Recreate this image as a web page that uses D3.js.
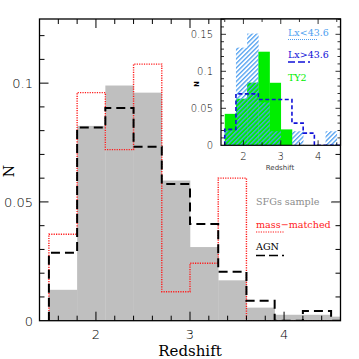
<!DOCTYPE html>
<html>
<head>
<meta charset="utf-8">
<script src="https://cdn.jsdelivr.net/npm/d3@7"></script>
<style>
  body { margin: 0; background: #fff; }
  svg { display: block; }
</style>
</head>
<body>
<div id="chart"></div>
<script>
// bin left edges (redshift), width 0.3
const binEdges = [1.5, 1.8, 2.1, 2.4, 2.7, 3.0, 3.3, 3.6, 3.9, 4.2, 4.5];
const binWidth = 0.3;

// main panel
const sfgValues = [0.013, 0.082, 0.099, 0.096, 0.059, 0.031, 0.017, 0.0055, 0.0025, 0.0025, 0.0017];
const massMatched = [0.0364, 0.096, 0.072, 0.108, 0.0122, 0.0242, 0.060, 0, 0, 0, 0];
const agnValues = [0.0286, 0.0813, 0.0895, 0.0732, 0.0575, 0.0407, 0.0206, 0.0084, 0, 0.0041, 0];

// inset
const lowLx = [0.02, 0.132, 0.151, 0.058, 0.019, 0, 0.019, 0, 0, 0.019, 0];
const highLx = [0.0215, 0.0695, 0.0695, 0.062, 0.062, 0.062, 0.030, 0.0165, 0, 0, 0];
const ty2Values = [0.0425, 0.063, 0.0847, 0.1265, 0.0845, 0.0215, 0, 0, 0, 0, 0];

const xTicksMain = [2, 3, 4];
const yTicksMain = [0, 0.05, 0.1];
const xTicksInset = [2, 3, 4];
const yTicksInset = [0, 0.05, 0.1, 0.15];

const W = 359, H = 359;
const svg = d3.select("#chart").append("svg")
    .attr("width", W)
    .attr("height", H);

const defs = svg.append("defs");
const pat = defs.append("pattern")
    .attr("id", "hatch")
    .attr("patternUnits", "userSpaceOnUse")
    .attr("width", 3.2)
    .attr("height", 3.2)
    .attr("patternTransform", "rotate(45)");
pat.append("rect")
    .attr("x", 0).attr("y", 0)
    .attr("width", 1.3).attr("height", 3.2)
    .attr("fill", "#4f9ff0");

const clipMain = defs.append("clipPath").attr("id", "clipMain");
const clipInset = defs.append("clipPath").attr("id", "clipInset");

// step path helper: starts at 0 on the first edge
function stepPath(x, y, vals) {
    const pts = [[x(binEdges[0]), y(0)]];
    vals.forEach((v, i) => {
        const x0 = x(binEdges[i]);
        const x1 = x(Math.min(binEdges[i] + binWidth, x.domain()[1] + 0.3));
        pts.push([x0, y(v)]);
        pts.push([x1, y(v)]);
    });
    return d3.line()(pts);
}

function drawTicks(g, x, y, opt) {
    const [x0, x1] = x.range();
    const [y0, y1] = y.range();
    const ticks = g.append("g").attr("stroke", "#000").attr("stroke-width", opt.tw);
    // x ticks bottom and top
    d3.range(opt.xMinorStart, x.domain()[1] + 1e-6, opt.xMinor).forEach(v => {
        const major = Math.abs(v - Math.round(v)) < 1e-6;
        const len = major ? opt.major : opt.minor;
        const px = x(v);
        if (px <= x0 + 0.5 || px >= x1 - 0.5) return;
        ticks.append("line").attr("x1", px).attr("x2", px).attr("y1", y0).attr("y2", y0 - len);
        ticks.append("line").attr("x1", px).attr("x2", px).attr("y1", y1).attr("y2", y1 + len);
    });
    d3.range(0, y.domain()[1] + 1e-9, opt.yMinor).forEach(v => {
        const major = Math.abs(v / 0.05 - Math.round(v / 0.05)) < 1e-6;
        const len = major ? opt.major : opt.minor;
        const py = y(v);
        if (py >= y0 - 0.5 || py <= y1 + 0.5) return;
        ticks.append("line").attr("x1", x0).attr("x2", x0 + len).attr("y1", py).attr("y2", py);
        ticks.append("line").attr("x1", x1).attr("x2", x1 - len).attr("y1", py).attr("y2", py);
    });
}

// ---------- main panel ----------
const x = d3.scaleLinear().domain([1.4, 4.6]).range([39.5, 340.5]);
const y = d3.scaleLinear().domain([0, 0.127]).range([320.7, 19]);

clipMain.append("rect")
    .attr("x", x.range()[0]).attr("y", y.range()[1])
    .attr("width", x.range()[1] - x.range()[0])
    .attr("height", y.range()[0] - y.range()[1]);

const main = svg.append("g");
const plot = main.append("g").attr("clip-path", "url(#clipMain)");

plot.selectAll("rect.sfg")
    .data(sfgValues)
    .join("rect")
    .attr("class", "sfg")
    .attr("x", (d, i) => x(binEdges[i]))
    .attr("width", (d, i) => x(binEdges[i] + binWidth) - x(binEdges[i]) + 0.3)
    .attr("y", d => y(d))
    .attr("height", d => y(0) - y(d))
    .attr("fill", "#bfbfbf");

plot.append("path")
    .attr("d", stepPath(x, y, massMatched))
    .attr("fill", "none")
    .attr("stroke", "#ff1a1a")
    .attr("stroke-width", 1.4)
    .attr("stroke-dasharray", "1.2,1.2");

plot.append("path")
    .attr("d", stepPath(x, y, agnValues))
    .attr("fill", "none")
    .attr("stroke", "#000")
    .attr("stroke-width", 2)
    .attr("stroke-dasharray", "9,5");

drawTicks(main, x, y, { xMinorStart: 1.4, xMinor: 0.2, yMinor: 0.01, major: 9, minor: 5, tw: 1 });

main.append("rect")
    .attr("x", x.range()[0]).attr("y", y.range()[1])
    .attr("width", x.range()[1] - x.range()[0])
    .attr("height", y.range()[0] - y.range()[1])
    .attr("fill", "none")
    .attr("stroke", "#000")
    .attr("stroke-width", 1.3);

const tickFont = "'DejaVu Sans', sans-serif";
const serif = "'DejaVu Serif', 'Liberation Serif', serif";

main.selectAll("text.xt")
    .data(xTicksMain)
    .join("text")
    .attr("x", d => x(d))
    .attr("y", 339)
    .attr("text-anchor", "middle")
    .attr("font-family", tickFont)
    .attr("font-size", 13)
    .attr("font-weight", 300)
    .text(d => d);

main.selectAll("text.yt")
    .data(yTicksMain)
    .join("text")
    .attr("x", 33)
    .attr("y", d => y(d) + 5)
    .attr("text-anchor", "end")
    .attr("font-family", tickFont)
    .attr("font-size", 13)
    .attr("font-weight", 300)
    .text(d => d);

main.append("text")
    .attr("x", 190)
    .attr("y", 356)
    .attr("text-anchor", "middle")
    .attr("font-family", serif)
    .attr("font-size", 15)
    .text("Redshift");

main.append("text")
    .attr("transform", "translate(14,171) rotate(-90)")
    .attr("text-anchor", "middle")
    .attr("font-family", serif)
    .attr("font-size", 14)
    .text("N");

// main legend
const leg = main.append("g").attr("font-family", serif).attr("font-size", 9.6);
leg.append("text").attr("x", 256).attr("y", 205).attr("fill", "#8c8c8c").text("SFGs sample");
leg.append("line").attr("x1", 331).attr("x2", 340).attr("y1", 202.3).attr("y2", 202.3)
    .attr("stroke", "#8c8c8c").attr("stroke-width", 1.5);
leg.append("text").attr("x", 256).attr("y", 228).attr("fill", "#ff1a1a").text("mass\u2212matched");
leg.append("line").attr("x1", 256).attr("x2", 284).attr("y1", 232).attr("y2", 232)
    .attr("stroke", "#ff1a1a").attr("stroke-width", 1.2).attr("stroke-dasharray", "1.2,1.2");
leg.append("text").attr("x", 256).attr("y", 250).attr("fill", "#000").text("AGN");
leg.append("line").attr("x1", 256).attr("x2", 284).attr("y1", 255.5).attr("y2", 255.5)
    .attr("stroke", "#000").attr("stroke-width", 1.6).attr("stroke-dasharray", "9,4");

// ---------- inset ----------
const xi = d3.scaleLinear().domain([1.4, 4.6]).range([221, 340.5]);
const yi = d3.scaleLinear().domain([0, 0.1707]).range([145.3, 19]);

clipInset.append("rect")
    .attr("x", xi.range()[0]).attr("y", yi.range()[1])
    .attr("width", xi.range()[1] - xi.range()[0])
    .attr("height", yi.range()[0] - yi.range()[1]);

const inset = svg.append("g");
inset.append("rect")
    .attr("x", xi.range()[0]).attr("y", yi.range()[1])
    .attr("width", xi.range()[1] - xi.range()[0])
    .attr("height", yi.range()[0] - yi.range()[1])
    .attr("fill", "#fff");

const iplot = inset.append("g").attr("clip-path", "url(#clipInset)");

iplot.selectAll("rect.ty2")
    .data(ty2Values)
    .join("rect")
    .attr("class", "ty2")
    .attr("x", (d, i) => xi(binEdges[i]))
    .attr("width", (d, i) => xi(binEdges[i] + binWidth) - xi(binEdges[i]) + 0.3)
    .attr("y", d => yi(d))
    .attr("height", d => yi(0) - yi(d))
    .attr("fill", "#00ee00");

iplot.selectAll("rect.low")
    .data(lowLx)
    .join("rect")
    .attr("class", "low")
    .attr("x", (d, i) => xi(binEdges[i]))
    .attr("width", (d, i) => xi(binEdges[i] + binWidth) - xi(binEdges[i]) + 0.3)
    .attr("y", d => yi(d))
    .attr("height", d => yi(0) - yi(d))
    .attr("fill", "url(#hatch)");

iplot.append("path")
    .attr("d", stepPath(xi, yi, highLx))
    .attr("fill", "none")
    .attr("stroke", "#1010d8")
    .attr("stroke-width", 1.6)
    .attr("stroke-dasharray", "4,2.5");

drawTicks(inset, xi, yi, { xMinorStart: 1.5, xMinor: 0.5, yMinor: 0.01, major: 5, minor: 3, tw: 0.8 });

inset.append("rect")
    .attr("x", xi.range()[0]).attr("y", yi.range()[1])
    .attr("width", xi.range()[1] - xi.range()[0])
    .attr("height", yi.range()[0] - yi.range()[1])
    .attr("fill", "none")
    .attr("stroke", "#000")
    .attr("stroke-width", 1.2);

inset.selectAll("text.xt")
    .data(xTicksInset)
    .join("text")
    .attr("x", d => xi(d))
    .attr("y", 159.5)
    .attr("text-anchor", "middle")
    .attr("font-family", tickFont)
    .attr("font-size", 10)
    .attr("font-weight", 300)
    .text(d => d);

inset.selectAll("text.yt")
    .data(yTicksInset)
    .join("text")
    .attr("x", 213)
    .attr("y", d => yi(d) + 3.5)
    .attr("text-anchor", "end")
    .attr("font-family", tickFont)
    .attr("font-size", 10)
    .attr("font-weight", 300)
    .text(d => d);

inset.append("text")
    .attr("x", 280)
    .attr("y", 169.5)
    .attr("text-anchor", "middle")
    .attr("font-family", tickFont)
    .attr("font-size", 7)
    .attr("fill", "#444")
    .text("Redshift");

inset.append("text")
    .attr("transform", "translate(199,84) rotate(-90)")
    .attr("text-anchor", "middle")
    .attr("font-family", tickFont)
    .attr("font-size", 7)
    .attr("font-weight", "bold")
    .text("N");

const ileg = inset.append("g").attr("font-family", serif).attr("font-size", 9.5);
ileg.append("text").attr("x", 288).attr("y", 36).attr("fill", "#4f9ff0").text("Lx<43.6");
ileg.append("line").attr("x1", 288).attr("x2", 318).attr("y1", 39.5).attr("y2", 39.5)
    .attr("stroke", "#4f9ff0").attr("stroke-width", 1).attr("stroke-dasharray", "1,1");
ileg.append("text").attr("x", 288).attr("y", 58).attr("fill", "#1010d8").text("Lx>43.6");
ileg.append("line").attr("x1", 288).attr("x2", 310).attr("y1", 62).attr("y2", 62)
    .attr("stroke", "#1010d8").attr("stroke-width", 1.5).attr("stroke-dasharray", "7,3");
ileg.append("text").attr("x", 288).attr("y", 81).attr("fill", "#00ee00").text("TY2");
</script>
</body>
</html>
